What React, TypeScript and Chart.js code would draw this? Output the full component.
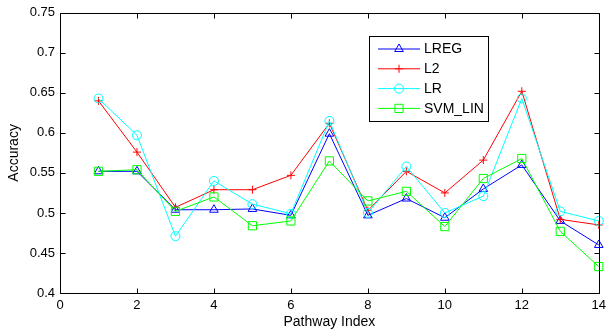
import React, { useEffect, useRef } from 'react';
import { Chart, registerables } from 'chart.js';
import { drawPoint } from 'chart.js/helpers';

Chart.register(...registerables);

// Accuracy of each classifier per pathway
const pathwayIndex = [1, 2, 3, 4, 5, 6, 7, 8, 9, 10, 11, 12, 13, 14];
const lregAcc = [0.552, 0.552, 0.504, 0.504, 0.505, 0.497, 0.599, 0.497, 0.518, 0.494, 0.530, 0.560, 0.490, 0.460];
const l2Acc = [0.640, 0.576, 0.507, 0.529, 0.529, 0.547, 0.612, 0.503, 0.552, 0.525, 0.566, 0.652, 0.492, 0.485];
const lrAcc = [0.643, 0.597, 0.471, 0.540, 0.511, 0.499, 0.615, 0.500, 0.558, 0.500, 0.521, 0.643, 0.502, 0.490];
const svmAcc = [0.552, 0.554, 0.502, 0.520, 0.484, 0.490, 0.565, 0.515, 0.527, 0.483, 0.543, 0.568, 0.477, 0.433];

const seriesNames = ['LREG', 'L2', 'LR', 'SVM_LIN'];
const xTicks = [0, 2, 4, 6, 8, 10, 12, 14];
const yTicks = [0.4, 0.45, 0.5, 0.55, 0.6, 0.65, 0.7, 0.75];

const FONT = "'Liberation Sans', Arial, sans-serif";

const toPoints = (ys: number[]) => pathwayIndex.map((x, i) => ({ x, y: ys[i] }));

// MATLAB-like box with inward tick marks on all four sides
const boxTicksPlugin = {
  id: 'boxTicks',
  afterDatasetsDraw(chart: any) {
    const { ctx, chartArea } = chart;
    const xs = chart.scales.x;
    const ys = chart.scales.y;
    const L = Math.round(chartArea.left) + 0.5;
    const R = Math.round(chartArea.right) + 0.5;
    const T = Math.round(chartArea.top) + 0.5;
    const B = Math.round(chartArea.bottom) + 0.5;
    const len = 5;
    ctx.save();
    ctx.strokeStyle = '#000';
    ctx.lineWidth = 1;
    ctx.beginPath();
    ctx.rect(L, T, R - L, B - T);
    for (const v of xTicks) {
      const px = Math.round(xs.getPixelForValue(v)) + 0.5;
      ctx.moveTo(px, B);
      ctx.lineTo(px, B - len);
      ctx.moveTo(px, T);
      ctx.lineTo(px, T + len);
    }
    for (const v of yTicks) {
      const py = Math.round(ys.getPixelForValue(v)) + 0.5;
      ctx.moveTo(L, py);
      ctx.lineTo(L + len, py);
      ctx.moveTo(R, py);
      ctx.lineTo(R - len, py);
    }
    ctx.stroke();
    ctx.restore();
  },
};

// Boxed legend placed inside the plot area
const boxLegendPlugin = {
  id: 'boxLegend',
  afterDraw(chart: any) {
    const { ctx } = chart;
    const boxL = 369.5, boxT = 36.5, boxW = 119, boxH = 85;
    const rowY0 = 49, rowStep = 19.8;
    const lineX0 = 378, lineX1 = 420, textX = 424;
    ctx.save();
    ctx.fillStyle = '#fff';
    ctx.fillRect(boxL, boxT, boxW, boxH);
    ctx.strokeStyle = '#000';
    ctx.lineWidth = 1;
    ctx.strokeRect(boxL, boxT, boxW, boxH);
    ctx.font = `14px ${FONT}`;
    ctx.textBaseline = 'middle';
    chart.data.datasets.forEach((ds: any, i: number) => {
      const y = rowY0 + i * rowStep;
      ctx.strokeStyle = ds.borderColor;
      ctx.lineWidth = 1;
      ctx.beginPath();
      ctx.moveTo(lineX0, y);
      ctx.lineTo(lineX1, y);
      ctx.stroke();
      ctx.fillStyle = 'rgba(0,0,0,0)';
      drawPoint(ctx, {
        pointStyle: ds.pointStyle,
        radius: ds.pointRadius,
        borderWidth: 1,
        rotation: 0,
      } as any, (lineX0 + lineX1) / 2, y);
      ctx.fillStyle = '#000';
      ctx.fillText(ds.label, textX, y + 0.5);
    });
    ctx.restore();
  },
};

export default function App() {
  const canvasRef = useRef<HTMLCanvasElement | null>(null);

  useEffect(() => {
    const canvas = canvasRef.current;
    if (!canvas) return;

    const mk = (label: string, ys: number[], color: string, pointStyle: string, radius: number, order: number) => ({
      label,
      data: toPoints(ys),
      borderColor: color,
      backgroundColor: 'rgba(0,0,0,0)',
      borderWidth: 1,
      pointStyle,
      pointRadius: radius,
      pointBorderColor: color,
      pointBackgroundColor: 'rgba(0,0,0,0)',
      pointBorderWidth: 1,
      tension: 0,
      clip: false,
      order,
    });

    const chart = new Chart(canvas, {
      type: 'line',
      data: {
        datasets: [
          mk(seriesNames[0], lregAcc, 'rgb(0,0,255)', 'triangle', 5, 4),
          mk(seriesNames[1], l2Acc, 'rgb(255,0,0)', 'cross', 4, 3),
          mk(seriesNames[2], lrAcc, 'rgb(0,255,255)', 'circle', 4.5, 2),
          mk(seriesNames[3], svmAcc, 'rgb(0,255,0)', 'rect', 5.8, 1),
        ] as any,
      },
      options: {
        responsive: false,
        animation: false,
        events: [],
        layout: { padding: { left: 0, top: 11, right: 7, bottom: 0 } },
        plugins: {
          legend: { display: false },
          tooltip: { enabled: false },
        },
        scales: {
          x: {
            type: 'linear',
            min: 0,
            max: 14,
            afterFit: (s: any) => { s.height = 40; },
            afterBuildTicks: (s: any) => { s.ticks = xTicks.map((v) => ({ value: v })); },
            grid: { display: false, drawTicks: false },
            border: { display: false },
            ticks: {
              padding: 5,
              color: '#000',
              font: { family: FONT, size: 13 },
              maxRotation: 0,
              autoSkip: false,
              callback: (v: any) => String(v),
            },
            title: {
              display: true,
              text: 'Pathway Index',
              color: '#000',
              font: { family: FONT, size: 14 },
              padding: { top: 0, bottom: 2 },
            },
          },
          y: {
            type: 'linear',
            min: 0.4,
            max: 0.75,
            afterFit: (s: any) => { s.width = 60; },
            afterBuildTicks: (s: any) => { s.ticks = yTicks.map((v) => ({ value: v })); },
            grid: { display: false, drawTicks: false },
            border: { display: false },
            ticks: {
              padding: 5,
              color: '#000',
              font: { family: FONT, size: 13 },
              autoSkip: false,
              callback: (v: any) => String(+Number(v).toFixed(2)),
            },
            title: {
              display: true,
              text: 'Accuracy',
              color: '#000',
              font: { family: FONT, size: 14 },
              padding: { top: 5.5, bottom: 0 },
            },
          },
        },
      },
      plugins: [boxTicksPlugin, boxLegendPlugin],
    });

    return () => chart.destroy();
  }, []);

  return (
    <div style={{ position: 'fixed', left: 0, top: 0, width: 611, height: 333, background: '#fff' }}>
      <canvas ref={canvasRef} width={611} height={333} style={{ display: 'block', width: 611, height: 333 }} />
    </div>
  );
}
